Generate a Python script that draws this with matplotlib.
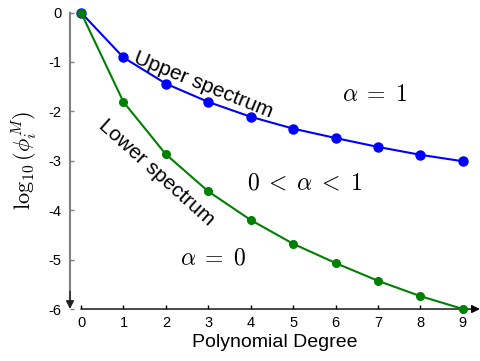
import numpy as np
import matplotlib
matplotlib.use("Agg")
import matplotlib.pyplot as plt

plt.rcParams["font.family"] = ["Liberation Sans", "DejaVu Sans"]
plt.rcParams["mathtext.fontset"] = "cm"

degree = [0, 1, 2, 3, 4, 5, 6, 7, 8, 9]
upper = [0.0, -0.91, -1.44, -1.81, -2.11, -2.35, -2.54, -2.72, -2.88, -3.01]
lower = [0.0, -1.81, -2.87, -3.62, -4.20, -4.68, -5.07, -5.43, -5.74, -6.00]
yticks = [0, -1, -2, -3, -4, -5, -6]

fig = plt.figure(figsize=(4.8, 3.61), dpi=100)
ax = fig.add_axes([0.1458, 0.144, 0.854, 0.8213])

ax.plot(degree, upper, "-o", color="#0000ff", lw=1.5, ms=6.5, clip_on=False, zorder=3)
ax.plot(degree, lower, "-o", color="#008000", lw=1.5, ms=5.5, clip_on=False, zorder=4)

ax.set_xlim(-0.26, 9.4)
ax.set_ylim(-6, 0)
ax.set_xticks(degree)
ax.set_yticks(yticks)
ax.set_yticklabels([str(v) for v in yticks])
for sp in ax.spines.values():
    sp.set_visible(False)
ax.tick_params(axis="x", direction="in", length=3, width=1, color="black",
               labelsize=10.5, pad=5)
ax.tick_params(axis="y", direction="in", length=3, width=1, color="#808080",
               labelsize=10.5, pad=6)

# arrowed axes: grey y-axis pointing down (dark head), black x-axis pointing right
ax.annotate("", xy=(0, 0.03), xycoords="axes fraction", xytext=(0, 1),
            textcoords="axes fraction", annotation_clip=False,
            arrowprops=dict(arrowstyle="-", color="#808080", lw=1.5,
                            shrinkA=0, shrinkB=0))
ax.annotate("", xy=(0, 0), xycoords="axes fraction", xytext=(0, 0.06),
            textcoords="axes fraction", annotation_clip=False,
            arrowprops=dict(arrowstyle="-|>", color="#202020", lw=1.0,
                            mutation_scale=12, shrinkA=0, shrinkB=0))
ax.annotate("", xy=(1.0, 0), xycoords="axes fraction", xytext=(0.0269, 0),
            textcoords="axes fraction", annotation_clip=False,
            arrowprops=dict(arrowstyle="-|>", color="black", lw=1.0,
                            mutation_scale=12, shrinkA=0, shrinkB=0))

ax.set_xlabel("Polynomial Degree", fontsize=14, labelpad=3)
ax.set_ylabel(r"$\log_{10}(\phi_i^M)$", fontsize=16, labelpad=6)

ax.text(2.87, -1.47, "Upper spectrum", rotation=-22, fontsize=15,
        ha="center", va="center", rotation_mode="anchor")
ax.text(1.79, -3.23, "Lower spectrum", rotation=-42, fontsize=15,
        ha="center", va="center", rotation_mode="anchor")
ax.text(6.93, -1.67, r"$\alpha\;=\;1$", fontsize=17, ha="center", va="center")
ax.text(5.28, -3.45, r"$0\;<\;\alpha\;<\;1$", fontsize=17, ha="center", va="center")
ax.text(3.11, -4.97, r"$\alpha\;=\;0$", fontsize=17, ha="center", va="center")

fig.savefig("out.png", dpi=100)
